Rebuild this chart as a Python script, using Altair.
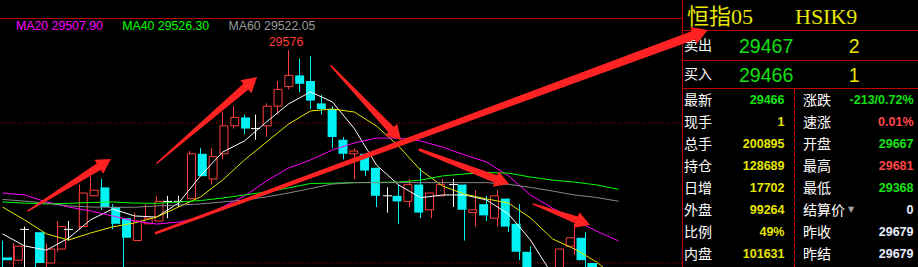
import math
import altair as alt
import pandas as pd

# ---------------- candle data (bar index 0..56) ----------------
OPEN = [29502, 29501, 29512, 29511, 29500, 29505, 29512, 29513, 29524, 29527,
        29520, 29516, 29508, 29514, 29515, 29522, 29522, 29523, 29539, 29530,
        29539, 29549, 29552, 29548, 29549, 29556, 29563, 29567, 29565, 29557,
        29555, 29544, 29539, 29539, 29534, 29524, 29524, 29522, 29528, 29519,
        29524, 29528, 29528, 29518, 29521, 29516, 29523, 29514, 29504, 29488,
        29478, 29490, 29506, 29509, 29500, 29488, 29475]
HIGH = [29508, 29507, 29513, 29511, 29507, 29515, 29515, 29528, 29531, 29530,
        29521, 29516, 29518, 29521, 29524, 29524, 29524, 29540, 29541, 29541,
        29554, 29556, 29553, 29553, 29557, 29565, 29576, 29573, 29574, 29560,
        29556, 29545, 29541, 29539, 29534, 29527, 29528, 29530, 29534, 29525,
        29530, 29530, 29528, 29526, 29524, 29526, 29523, 29521, 29506, 29492,
        29494, 29505, 29514, 29511, 29500, 29490, 29478]
LOW = [29495, 29496, 29494, 29496, 29497, 29504, 29508, 29512, 29524, 29519,
       29512, 29495, 29508, 29514, 29515, 29516, 29520, 29523, 29531, 29528,
       29537, 29548, 29546, 29544, 29545, 29553, 29562, 29561, 29555, 29553,
       29541, 29537, 29530, 29531, 29520, 29518, 29514, 29520, 29516, 29516,
       29524, 29520, 29508, 29513, 29515, 29513, 29511, 29501, 29485, 29476,
       29474, 29486, 29503, 29494, 29484, 29470, 29462]
CLOSE = [29501, 29506, 29512, 29500, 29505, 29513, 29512, 29525, 29526, 29520,
         29514, 29509, 29515, 29516, 29522, 29522, 29522, 29539, 29531, 29538,
         29549, 29552, 29548, 29548, 29556, 29562, 29567, 29564, 29558, 29555,
         29545, 29539, 29540, 29533, 29524, 29524, 29522, 29528, 29518, 29525,
         29528, 29528, 29519, 29519, 29517, 29524, 29513, 29504, 29488, 29480,
         29490, 29505, 29509, 29501, 29488, 29475, 29466]

# ---------------- moving averages, read every 2 bars ----------------
MA_IDX = list(range(0, 57, 2))
MA5 = [29510.4, 29506.1, 29504.6, 29508.9, 29515.4, 29519.3, 29516.8, 29516.4, 29521.4, 29531.1,
       29539.6, 29543.6, 29550.4, 29556.8, 29561.1, 29557.5, 29547.9, 29535.0, 29527.9, 29523.3,
       29524.3, 29524.3, 29522.5, 29517.5, 29508.2, 29495.7, 29486.8, 29479.6, 29474.3]
MA10 = [29520.0, 29515.4, 29510.4, 29508.2, 29510.7, 29512.9, 29514.3, 29516.4, 29520.0, 29523.6,
        29529.6, 29536.8, 29543.2, 29549.6, 29554.3, 29555.0, 29553.9, 29548.9, 29541.8, 29533.2,
        29527.5, 29524.6, 29522.9, 29521.4, 29516.1, 29508.6, 29505.0, 29500.4, 29493.9]
MA20 = [29525.0, 29524.3, 29521.8, 29520.0, 29518.6, 29516.8, 29515.0, 29513.9, 29514.6, 29516.3,
        29520.0, 29523.9, 29529.3, 29533.9, 29536.8, 29540.4, 29542.9, 29544.6, 29544.6, 29543.6,
        29541.4, 29538.6, 29536.1, 29531.1, 29524.3, 29519.6, 29515.4, 29511.4, 29507.9]
MA40 = [29521.8, 29521.4, 29521.1, 29521.3, 29521.6, 29521.8, 29521.4, 29521.3, 29521.8, 29522.3,
        29523.2, 29524.3, 29525.4, 29526.8, 29528.4, 29528.5, 29528.7, 29528.8, 29528.9, 29529.6,
        29531.1, 29531.8, 29532.3, 29532.1, 29530.7, 29529.6, 29528.9, 29527.9, 29526.3]
MA60 = [29522.7, 29522.1, 29521.4, 29520.4, 29520.0, 29519.9, 29519.9, 29520.4, 29520.7, 29521.1,
        29521.8, 29522.5, 29523.6, 29525.0, 29526.6, 29528.2, 29528.7, 29528.7, 29528.7, 29528.7,
        29528.7, 29528.7, 29528.7, 29528.1, 29527.0, 29525.7, 29524.3, 29523.4, 29522.05]
MA_NAMES = ["MA5", "MA10", "MA20", "MA40", "MA60"]
MA_COLORS = ["#ffffff", "#e8e800", "#ff00ff", "#00ff00", "#888888"]

LEGEND_TEXT = ["MA20 29507.90", "MA40 29526.30", "MA60 29522.05"]
LEGEND_COLOR = ["#ff00ff", "#00ff00", "#999999"]

HIGH_IDX = 26
HIGH_LABEL = "29576"
GRID_PRICES = [29550, 29500]

# ---------------- hand-drawn arrows (bar index, price) ----------------
ARROW_TAIL_I = [2.32, 14.05, 29.86, 13.95, 37.95, 48.23]
ARROW_TAIL_P = [29518.6, 29535.7, 29570.4, 29510.7, 29540.4, 29521.1]
ARROW_TIP_I = [9.86, 23.14, 36.23, 64.14, 46.05, 53.41]
ARROW_TIP_P = [29537.1, 29566.4, 29543.9, 29583.2, 29528.2, 29513.6]
ARROW_W0 = [1.5, 1.5, 1.5, 2.5, 3.0, 1.5]
ARROW_W1 = [8, 8, 8, 9, 8, 8]
ARROW_HEAD = [272, 290, 280, 330, 272, 272]

# ---------------- quote panel ----------------
TITLE = ["恒指05", "HSIK9"]
QUOTE_LABEL = ["卖出", "买入"]
QUOTE_PRICE = ["29467", "29466"]
QUOTE_QTY = ["2", "1"]
LEFT_LABEL = ["最新", "现手", "总手", "持仓", "日增", "外盘", "比例", "内盘"]
LEFT_VALUE = ["29466", "1", "200895", "128689", "17702", "99264", "49%", "101631"]
LEFT_KIND = ["down", "vol", "vol", "vol", "vol", "vol", "vol", "vol"]
RIGHT_LABEL = ["涨跌", "速涨", "开盘", "最高", "最低", "结算价", "昨收", "昨结"]
RIGHT_VALUE = ["-213/0.72%", "0.01%", "29667", "29681", "29368", "0", "29679", "29679"]
RIGHT_KIND = ["down", "up", "down", "up", "down", "flat", "flat", "flat"]

# ---------------- styles ----------------
RED = "#ff3c3c"
CYAN = "#00f2f2"
ARROW_RED = "#ff2222"
FRAME = "#c00000"
KIND_COLOR = {"down": "#14e014", "up": "#ff4646", "vol": "#e6e600", "flat": "#e8eeff"}
LATIN = "Liberation Sans"
CJK = "Noto Sans CJK SC"

N = len(OPEN)
XS = alt.Scale(domain=[0, N - 1], range=[2.5, 618.5], nice=False, zero=False)
YS = alt.Scale(domain=[29500, 29550], range=[263, 123], nice=False, zero=False)
PXI = (618.5 - 2.5) / (N - 1)
PXP = (263 - 123) / 50.0

kinds, cols = [], []
for o, c in zip(OPEN, CLOSE):
    k = "up" if c > o else ("down" if c < o else "doji")
    kinds.append(k)
    cols.append(RED if k == "up" else (CYAN if k == "down" else "#ffffff"))
cdf = pd.DataFrame({"idx": list(range(N)), "open": OPEN, "high": HIGH, "low": LOW,
                    "close": CLOSE, "kind": kinds, "col": cols})

xq = alt.X("idx:Q", scale=XS, axis=None)

layers = []

# dotted price gridlines
layers.append(alt.Chart(pd.DataFrame({"p": GRID_PRICES})).mark_rule(
    color="#a00000", strokeWidth=1, strokeDash=[1, 2]).encode(
    y=alt.Y("p:Q", scale=YS, axis=None), x=alt.value(0), x2=alt.value(682)))

# frame lines
layers.append(alt.Chart(pd.DataFrame({"a": [0]})).mark_rule(color=FRAME, strokeWidth=1).encode(
    x=alt.value(0), x2=alt.value(682), y=alt.value(18.5)))
layers.append(alt.Chart(pd.DataFrame({"a": [0]})).mark_rule(color=FRAME, strokeWidth=1).encode(
    x=alt.value(682.5), y=alt.value(0), y2=alt.value(267)))
for yy in [30.5, 60.5, 88.5]:
    layers.append(alt.Chart(pd.DataFrame({"a": [0]})).mark_rule(color=FRAME, strokeWidth=1).encode(
        x=alt.value(682), x2=alt.value(918), y=alt.value(yy)))
layers.append(alt.Chart(pd.DataFrame({"a": [0]})).mark_rule(
    color="#e00000", strokeWidth=1, strokeDash=[5, 2]).encode(
    x=alt.value(794.5), y=alt.value(89), y2=alt.value(267)))

# wicks
layers.append(alt.Chart(cdf).mark_rule(strokeWidth=1, clip=True).encode(
    x=xq, y=alt.Y("low:Q", scale=YS, axis=None), y2="high:Q",
    color=alt.Color("col:N", scale=None)))
# rising bodies (hollow)
layers.append(alt.Chart(cdf[cdf.kind == "up"]).mark_bar(
    size=8, fill="#000000", stroke=RED, strokeWidth=1, clip=True).encode(
    x=xq, y=alt.Y("open:Q", scale=YS, axis=None), y2="close:Q"))
# falling bodies (filled)
layers.append(alt.Chart(cdf[cdf.kind == "down"]).mark_bar(
    size=9, color=CYAN, clip=True).encode(
    x=xq, y=alt.Y("open:Q", scale=YS, axis=None), y2="close:Q"))
# doji bars
layers.append(alt.Chart(cdf[cdf.kind == "doji"]).mark_tick(
    orient="horizontal", size=9, thickness=1, color="#ffffff", opacity=1, clip=True).encode(
    x=xq, y=alt.Y("open:Q", scale=YS, axis=None)))

# moving averages
ma_rows = []
for name, colr, vals in zip(MA_NAMES, MA_COLORS, [MA5, MA10, MA20, MA40, MA60]):
    for i, v in zip(MA_IDX, vals):
        ma_rows.append({"ma": name, "idx": i, "v": v, "col": colr})
layers.append(alt.Chart(pd.DataFrame(ma_rows)).mark_line(strokeWidth=1, clip=True).encode(
    x=xq, y=alt.Y("v:Q", scale=YS, axis=None), detail="ma:N",
    color=alt.Color("col:N", scale=None)))

# high label
layers.append(alt.Chart(pd.DataFrame({"idx": [HIGH_IDX], "high": [HIGH[HIGH_IDX]], "t": [HIGH_LABEL]}))
              .mark_text(align="center", baseline="alphabetic", dy=-4, dx=-2.5, color=RED,
                         font=LATIN, fontSize=12.5).encode(
    x=xq, y=alt.Y("high:Q", scale=YS, axis=None), text="t:N"))


def text_layer(df, xdom, xrng, ydom, yrng, **mk):
    return alt.Chart(df).mark_text(baseline="middle", **mk).encode(
        x=alt.X("c:Q", scale=alt.Scale(domain=xdom, range=xrng, nice=False, zero=False), axis=None),
        y=alt.Y("r:Q", scale=alt.Scale(domain=ydom, range=yrng, nice=False, zero=False), axis=None),
        text=alt.Text("t:N"),
        color=alt.Color("fc:N", scale=None))


# MA legend
layers.append(text_layer(pd.DataFrame({"c": [0, 1, 2], "r": [0, 0, 0], "t": LEGEND_TEXT, "fc": LEGEND_COLOR}),
                         [0, 2], [16, 228.5], [0, 1], [26, 27],
                         align="left", font=LATIN, fontSize=12.3))

# panel title
layers.append(text_layer(pd.DataFrame({"c": [0, 1], "r": [0, 0], "t": TITLE, "fc": ["#e8e800"] * 2}),
                         [0, 1], [687, 795], [0, 1], [16.5, 17.5],
                         align="left", font="Liberation Serif, Noto Sans CJK SC", fontSize=22))
# bid / ask rows
layers.append(text_layer(pd.DataFrame({"c": [0, 0], "r": [0, 1], "t": QUOTE_LABEL, "fc": ["#ffffff"] * 2}),
                         [0, 1], [684, 739], [0, 1], [45.5, 74.5],
                         align="left", font=CJK, fontSize=14))
layers.append(text_layer(pd.DataFrame({"c": [1, 1], "r": [0, 1], "t": QUOTE_PRICE, "fc": ["#14e014"] * 2}),
                         [0, 1], [684, 739], [0, 1], [46.5, 75.5],
                         align="left", font=LATIN, fontSize=19.5))
layers.append(text_layer(pd.DataFrame({"c": [0, 0], "r": [0, 1], "t": QUOTE_QTY, "fc": ["#e6e600"] * 2}),
                         [0, 1], [859.5, 900], [0, 1], [46.5, 75.5],
                         align="right", font=LATIN, fontSize=19.5))

# info grid
lab = pd.DataFrame({"c": [0] * 8 + [1] * 8, "r": list(range(8)) * 2,
                    "t": LEFT_LABEL + RIGHT_LABEL, "fc": ["#ffffff"] * 16})
val = pd.DataFrame({"c": [0] * 8 + [1] * 8, "r": list(range(8)) * 2,
                    "t": LEFT_VALUE + RIGHT_VALUE,
                    "fc": [KIND_COLOR[k] for k in LEFT_KIND + RIGHT_KIND]})
layers.append(text_layer(lab, [0, 1], [684, 803], [0, 7], [100.5, 254.5],
                         align="left", font=CJK, fontSize=14))
layers.append(text_layer(val, [0, 1], [784.5, 913.5], [0, 7], [100, 254],
                         align="right", font=LATIN, fontSize=12.5, fontWeight="bold"))
layers.append(text_layer(pd.DataFrame({"c": [1], "r": [5], "t": ["▼"], "fc": ["#a0a0a0"]}),
                         [0, 1], [684, 803], [0, 7], [100, 254],
                         align="left", dx=45, font="DejaVu Sans", fontSize=8))

# arrows: tapered shaft + triangular head
trail_rows, head_rows = [], []
for a in range(len(ARROW_TAIL_I)):
    si, sp, ti, tp = ARROW_TAIL_I[a], ARROW_TAIL_P[a], ARROW_TIP_I[a], ARROW_TIP_P[a]
    dx = (ti - si) * PXI
    dy = -(tp - sp) * PXP
    L = math.hypot(dx, dy)
    ux, uy = dx / L, dy / L
    r = math.sqrt(ARROW_HEAD[a]) / 2
    h = 0.866 * r
    ci, cp = ti - h * ux / PXI, tp + h * uy / PXP
    ei, ep = ti - 1.4 * h * ux / PXI, tp + 1.4 * h * uy / PXP
    trail_rows.append({"aid": a, "k": 0, "i": si, "p": sp, "w": ARROW_W0[a]})
    trail_rows.append({"aid": a, "k": 1, "i": ei, "p": ep, "w": ARROW_W1[a]})
    head_rows.append({"aid": a, "i": ci, "p": cp, "hs": ARROW_HEAD[a],
                      "ang": math.degrees(math.atan2(dy, dx)) % 360})

AX = alt.Scale(domain=[0, N - 1], range=[2.5, 618.5], nice=False, zero=False)
layers.append(alt.Chart(pd.DataFrame(trail_rows)).mark_trail(color=ARROW_RED, opacity=1).encode(
    x=alt.X("i:Q", scale=AX, axis=None), y=alt.Y("p:Q", scale=YS, axis=None),
    size=alt.Size("w:Q", scale=None), detail="aid:N", order="k:Q"))
layers.append(alt.Chart(pd.DataFrame(head_rows)).mark_point(
    shape="triangle-right", filled=True, opacity=1, strokeWidth=0, color=ARROW_RED).encode(
    x=alt.X("i:Q", scale=AX, axis=None), y=alt.Y("p:Q", scale=YS, axis=None),
    size=alt.Size("hs:Q", scale=None), angle=alt.Angle("ang:Q", scale=None)))

chart = alt.layer(*layers).resolve_scale(
    x="independent", y="independent", color="independent", size="independent", angle="independent"
).properties(
    width=918, height=267, padding=0, autosize=alt.AutoSizeParams(type="none"), background="#000000"
).configure_view(stroke=None)

chart.save("out.html", embed_options={"renderer": "svg", "actions": False})
